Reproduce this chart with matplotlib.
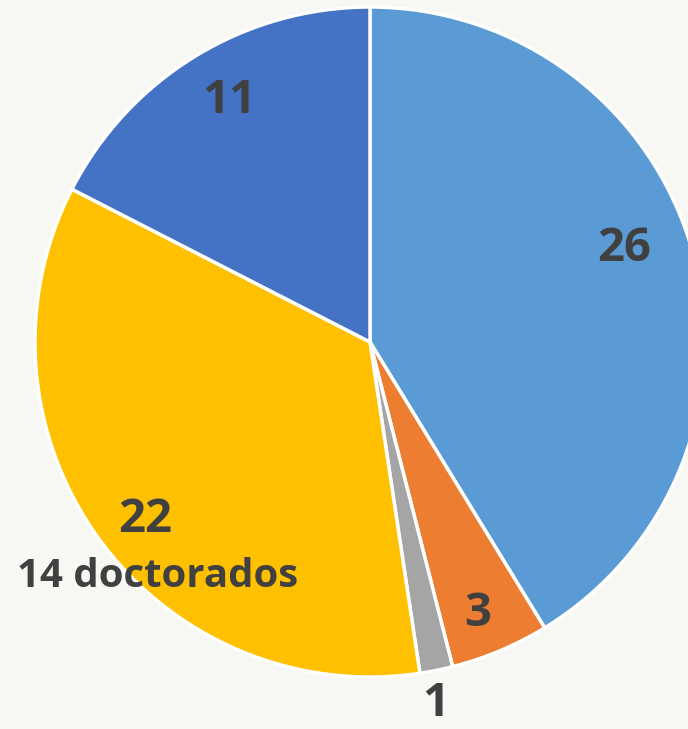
import matplotlib
matplotlib.use("Agg")
import matplotlib.pyplot as plt

categories = ["A", "B", "C", "D", "E"]
values = [26, 3, 1, 22, 11]
extra_label = "14 doctorados"
colors = ["#5B9BD5", "#ED7D31", "#A5A5A5", "#FFC000", "#4472C4"]

# label positions (in pie-radius units)
label_pos = [(0.76, 0.28), (0.32, -0.81), (0.195, -1.08), (-0.67, -0.53), (-0.42, 0.72)]
extra_pos = (-0.635, -0.70)

W, H = 688, 729
cx, cy, R = 370, 342, 335
fig = plt.figure(figsize=(W / 100, H / 100), dpi=100)
bg = "#F7F7F4"
fig.patch.set_facecolor(bg)
ax = fig.add_axes([0, 0, 1, 1])
ax.set_facecolor(bg)
ax.pie(values, colors=colors, startangle=90, counterclock=False, radius=1,
       wedgeprops=dict(edgecolor="white", linewidth=2.5))
ax.set_aspect("auto")
ax.set_xlim(-cx / R, (W - cx) / R)
ax.set_ylim(-(H - cy) / R, cy / R)
ax.axis("off")

font = "Open Sans"
for v, (x, y) in zip(values, label_pos):
    ax.text(x, y, str(v), ha="center", va="center", fontsize=34,
            fontweight="bold", color="#404040", family=font)
ax.text(extra_pos[0], extra_pos[1], extra_label, ha="center", va="center",
        fontsize=29, fontweight="bold", color="#404040", family=font)

fig.savefig("out.png", dpi=100, facecolor=bg)
